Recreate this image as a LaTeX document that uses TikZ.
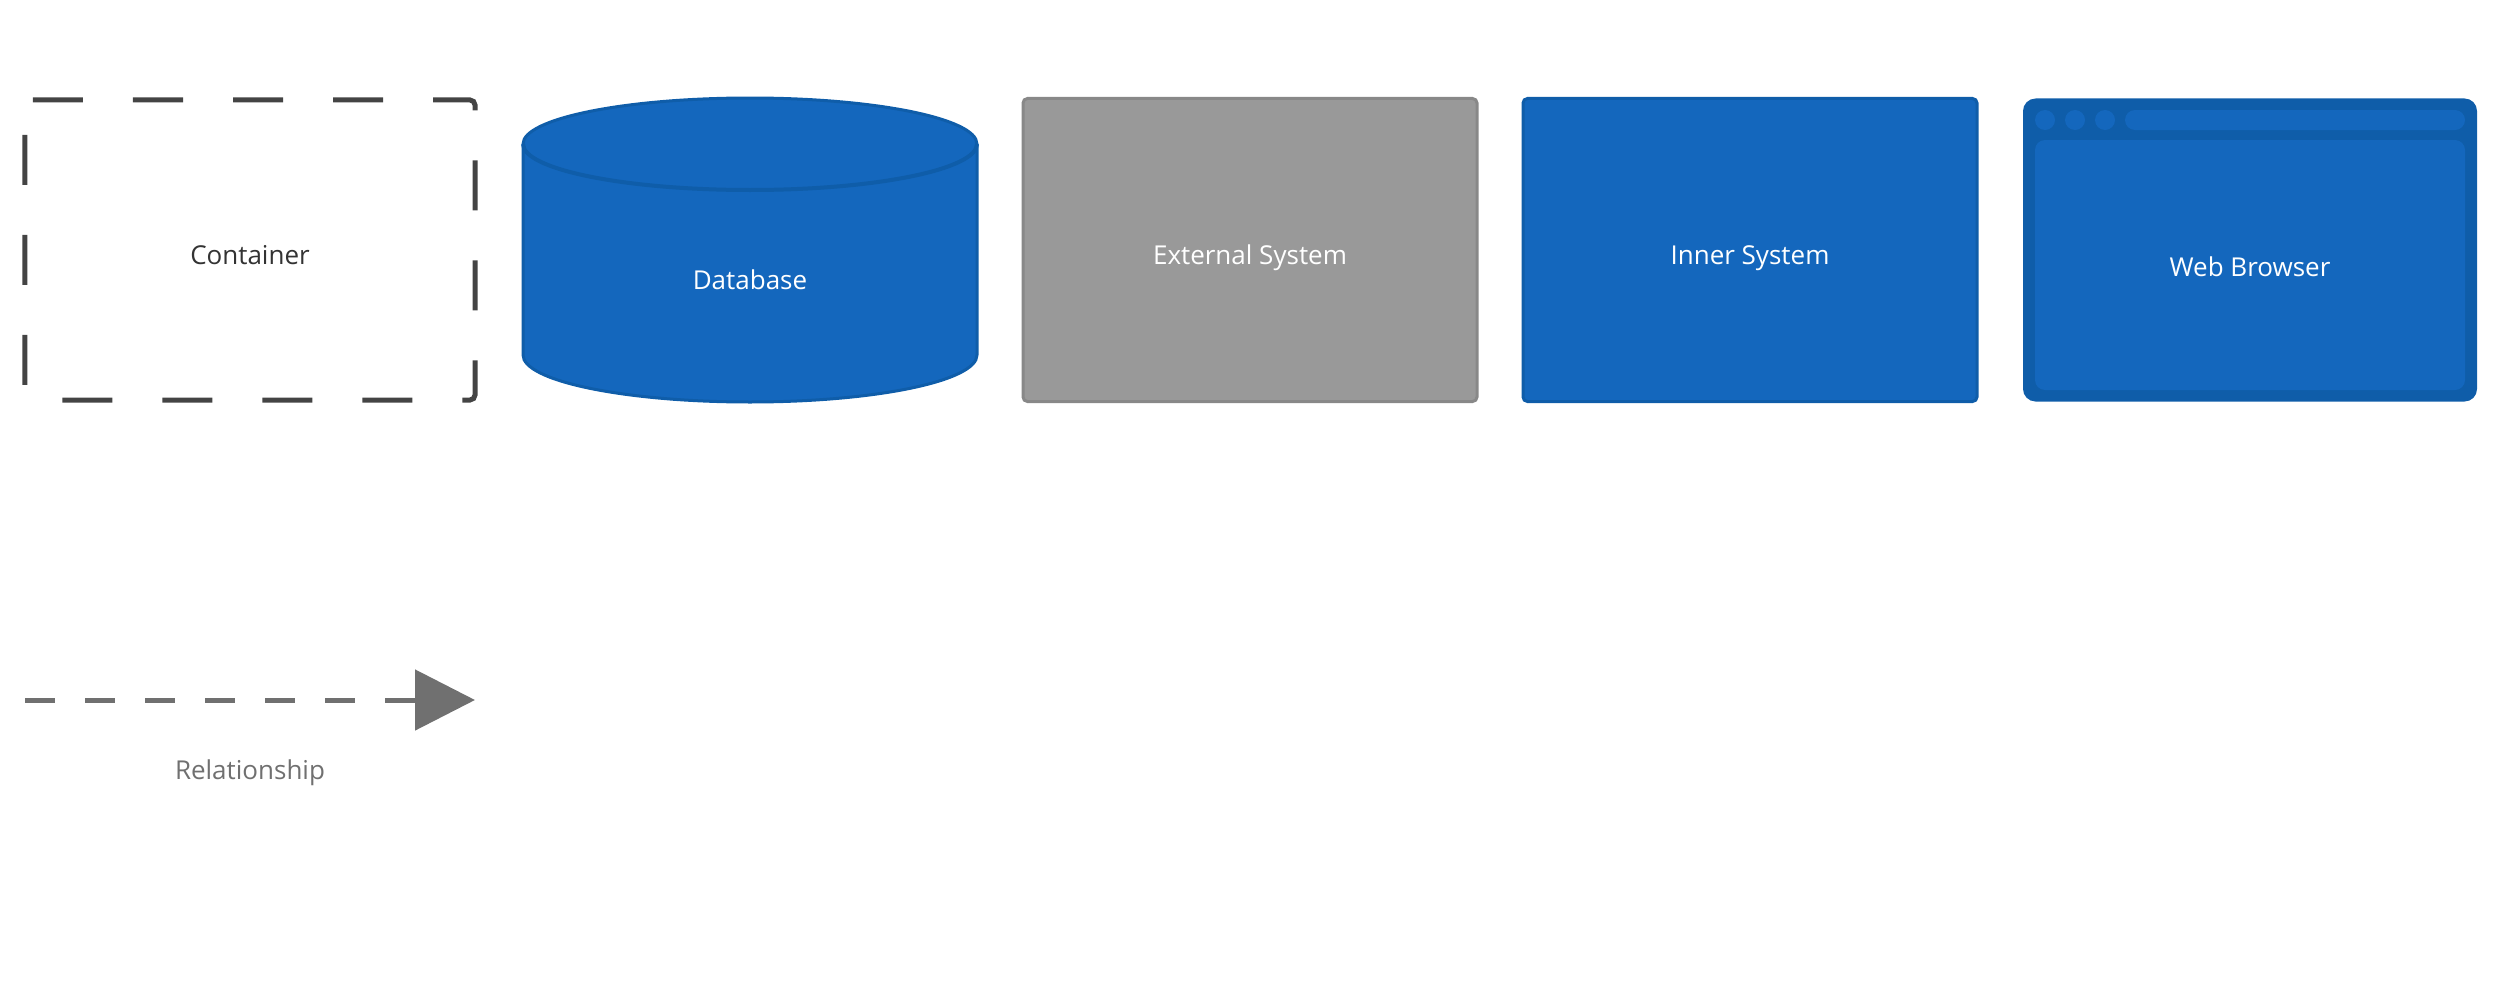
\documentclass[tikz,border=0pt]{standalone}
\usepackage{fontspec}
\setmainfont{Open Sans}
\usetikzlibrary{arrows.meta}
\definecolor{c4blue}{HTML}{1467BD}
\definecolor{c4bluedark}{HTML}{0F5DA9}
\definecolor{c4grey}{HTML}{999999}
\definecolor{c4greydark}{HTML}{888888}
\definecolor{condark}{HTML}{444444}
\definecolor{contxt}{HTML}{333333}
\definecolor{relgrey}{HTML}{707070}
\tikzset{
  lbl/.style={inner sep=0pt, outer sep=0pt, font=\fontsize{10.4}{12}\selectfont},
  boxshape/.style={inner sep=0pt, outer sep=0pt, minimum width=181.6pt, minimum height=121.2pt,
                   rounded corners=1.8pt, line width=1.2pt, text=white, font=\fontsize{10.4}{12}\selectfont,
                   text height=11.4pt, text depth=0pt},
  condash/.style={draw=condark, line width=2pt, dash pattern=on 20pt off 20pt, dash phase=38.8pt, rounded corners=2pt},
  reldash/.style={draw=relgrey, line width=2pt, dash pattern=on 12pt off 12pt},
}
\begin{document}
\begin{tikzpicture}[x=0.4pt, y=-0.4pt]
\useasboundingbox (0,0) rectangle (2500,1000);
% Container
\node[lbl, text=contxt, minimum width=180pt, minimum height=120pt, text height=11.4pt, text depth=0pt] (container) at (250,250) {Container};
\draw[condash] (container.north west) -- (container.north east) -- (container.south east) -- (container.south west) -- cycle;
% Database
\fill[c4blue] (523,144) -- (523,355) arc[start angle=180, end angle=0, x radius=227, y radius=47] -- (977,144) arc[start angle=0, end angle=-180, x radius=227, y radius=46] -- cycle;
\draw[c4bluedark, line width=1.2pt] (523,144) -- (523,355) arc[start angle=180, end angle=0, x radius=227, y radius=47] -- (977,144) arc[start angle=0, end angle=-180, x radius=227, y radius=46] -- cycle;
\draw[c4bluedark, line width=1.6pt] (977,144) arc[start angle=0, end angle=180, x radius=227, y radius=46];
\node[lbl, text=white] (database) at (750,280) {Database};
% External system
\node[boxshape, fill=c4grey, draw=c4greydark] (external) at (1250,250) {External System};
% Inner system
\node[boxshape, fill=c4blue, draw=c4bluedark] (inner) at (1750,250) {Inner System};
% Web browser
\node[boxshape, fill=c4bluedark, draw=none, rounded corners=5pt] (browser) at (2250,250) {};
\fill[c4blue, rounded corners=4pt] (2035,140) rectangle (2465,390);
\fill[c4blue] (2045,120) circle[radius=10];
\fill[c4blue] (2075,120) circle[radius=10];
\fill[c4blue] (2105,120) circle[radius=10];
\fill[c4blue, rounded corners=4pt] (2125,110) rectangle (2465,130);
\node[lbl, text=white] (browsertext) at (2250,267) {Web Browser};
% Relationship
\coordinate (relstart) at (25,700);
\coordinate (relend) at (475,700);
\draw[reldash, -{Triangle[length=24pt, width=24pt]}, relgrey] (relstart) -- (relend);
\node[lbl, text=relgrey] (rellabel) at (250,773) {Relationship};
\end{tikzpicture}
\end{document}
